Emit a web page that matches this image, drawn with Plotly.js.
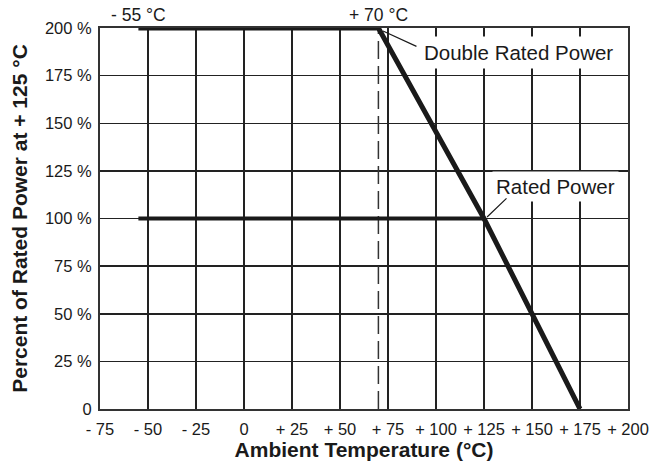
<!DOCTYPE html>
<html>
<head>
<meta charset="utf-8">
<script src="https://cdn.plot.ly/plotly-3.0.1.min.js"></script>
<style>html,body{margin:0;padding:0;background:#fff;}#chart{width:663px;height:465px;}</style>
</head>
<body>
<div id="chart"></div>
<script>
// ---- data ----
const xTickVals = [-75, -50, -25, 0, 25, 50, 75, 100, 125, 150, 175, 200];
const xTickText = ["- 75", "- 50", "- 25", "0", "+ 25", "+ 50", "+ 75", "+ 100", "+ 125", "+ 150", "+ 175", "+ 200"];
const yTickVals = [0, 25, 50, 75, 100, 125, 150, 175, 200];
const yTickText = ["0", "25 %", "50 %", "75 %", "100 %", "125 %", "150 %", "175 %", "200 %"];

const doubleX = [-55, 70, 125, 175];
const doubleY = [200, 200, 100, 0];
const ratedX = [-55, 125];
const ratedY = [100, 100];
const limitX = [70, 70];
const limitY = [0, 200];

const labelLow = { x: -55, y: 200, text: "- 55 °C" };
const labelHigh = { x: 70, y: 200, text: "+ 70 °C" };
const doubleLabel = { text: "Double Rated Power", x: 143, y: 187, tipX: 72.4, tipY: 198.4, tailX: 90.6, tailY: 190 };
const ratedLabel = { text: "Rated Power", x: 162, y: 117, tipX: 126.6, tipY: 100.8, tailX: 137.5, tailY: 111.3 };

const FONT = "Liberation Sans, Arial, Helvetica, sans-serif";
const INK = "#1a1a1a";

const traces = [
  { x: limitX, y: limitY, mode: "lines", line: { color: "#333", width: 1.5, dash: "18px,7px" }, hoverinfo: "skip" },
  { x: ratedX, y: ratedY, mode: "lines", line: { color: INK, width: 4 }, hoverinfo: "skip" },
  { x: doubleX, y: doubleY, mode: "lines", line: { color: INK, width: 5 }, hoverinfo: "skip" }
];

const annotations = [
  { x: labelLow.x, y: labelLow.y, xref: "x", yref: "y", text: labelLow.text, showarrow: false, yanchor: "bottom", yshift: 1, font: { family: FONT, size: 17.5, color: INK } },
  { x: labelHigh.x, y: labelHigh.y, xref: "x", yref: "y", text: labelHigh.text, showarrow: false, yanchor: "bottom", yshift: 1, font: { family: FONT, size: 17.5, color: INK } },
  { x: doubleLabel.x, y: doubleLabel.y, xref: "x", yref: "y", text: doubleLabel.text, showarrow: false, bgcolor: "#fff", borderpad: 4, font: { family: FONT, size: 20.5, color: INK } },
  { x: doubleLabel.tipX, y: doubleLabel.tipY, ax: doubleLabel.tailX, ay: doubleLabel.tailY, axref: "x", ayref: "y", xref: "x", yref: "y", text: "", showarrow: true, arrowhead: 0, arrowwidth: 1.2, arrowcolor: INK },
  { x: ratedLabel.x, y: ratedLabel.y, xref: "x", yref: "y", text: ratedLabel.text, showarrow: false, bgcolor: "#fff", borderpad: 3, font: { family: FONT, size: 20.5, color: INK } },
  { x: ratedLabel.tipX, y: ratedLabel.tipY, ax: ratedLabel.tailX, ay: ratedLabel.tailY, axref: "x", ayref: "y", xref: "x", yref: "y", text: "", showarrow: true, arrowhead: 0, arrowwidth: 1.2, arrowcolor: INK }
];

const layout = {
  width: 663, height: 465,
  margin: { l: 100, r: 35, t: 28, b: 56 },
  paper_bgcolor: "#fff", plot_bgcolor: "#fff",
  showlegend: false,
  font: { family: FONT, color: INK },
  xaxis: {
    range: [-75, 200], tickmode: "array", tickvals: xTickVals, ticktext: xTickText,
    showgrid: true, gridcolor: "#222", gridwidth: 1.5, zeroline: false,
    showline: true, mirror: true, linecolor: "#333", linewidth: 2,
    ticks: "", ticklabelstandoff: 4, tickfont: { family: FONT, size: 16.5, color: INK },
    title: { text: "<b>Ambient Temperature (°C)</b>", font: { family: FONT, size: 21, color: INK }, standoff: 4 },
    fixedrange: true
  },
  yaxis: {
    range: [0, 200], tickmode: "array", tickvals: yTickVals, ticktext: yTickText,
    showgrid: true, gridcolor: "#222", gridwidth: 1.5, zeroline: false,
    showline: true, mirror: true, linecolor: "#333", linewidth: 2,
    ticks: "", ticklabelstandoff: 3, tickfont: { family: FONT, size: 16.5, color: INK },
    title: { text: "<b>Percent of Rated Power at + 125 °C</b>", font: { family: FONT, size: 21, color: INK }, standoff: 12 },
    fixedrange: true
  },
  annotations: annotations
};

Plotly.newPlot("chart", traces, layout, { staticPlot: true, displayModeBar: false });
</script>
</body>
</html>
